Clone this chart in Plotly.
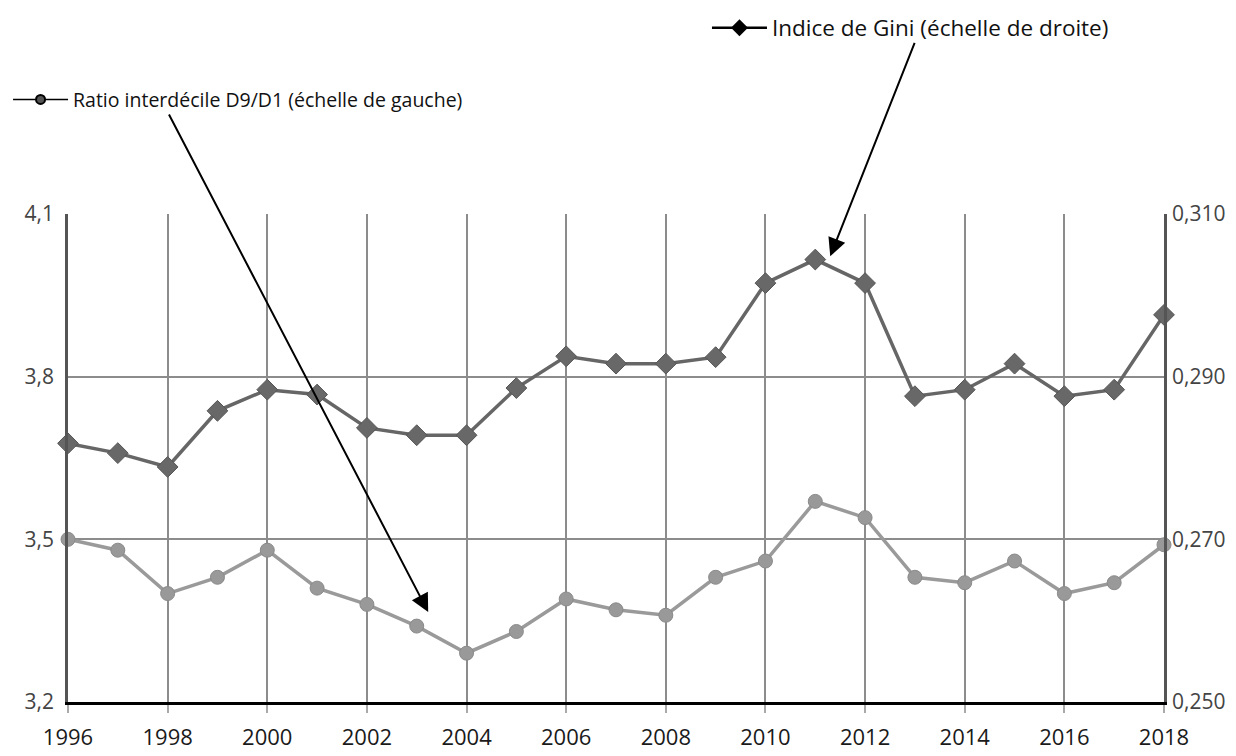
import plotly.graph_objects as go

years = list(range(1996, 2019))
gini = [0.2818, 0.2806, 0.2789, 0.2858, 0.2884, 0.2878, 0.2837, 0.2828, 0.2828,
        0.2886, 0.2925, 0.2916, 0.2916, 0.2924, 0.3015, 0.3044, 0.3015, 0.2876,
        0.2884, 0.2916, 0.2876, 0.2884, 0.2976]
ratio = [3.50, 3.48, 3.40, 3.43, 3.48, 3.41, 3.38, 3.34, 3.29, 3.33, 3.39, 3.37,
         3.36, 3.43, 3.46, 3.57, 3.54, 3.43, 3.42, 3.46, 3.40, 3.42, 3.49]

x_ticks = list(range(1996, 2019, 2))
x_labels = [str(v) for v in x_ticks]
left_ticks = [3.2, 3.5, 3.8, 4.1]
left_labels = ["3,2", "3,5", "3,8", "4,1"]
right_ticks = [0.250, 0.270, 0.290, 0.310]
right_labels = ["0,250", "0,270", "0,290", "0,310"]

gini_name = "Indice de Gini (échelle de droite)"
ratio_name = "Ratio interdécile D9/D1 (échelle de gauche)"

FONT = "Open Sans"
fig = go.Figure()

fig.add_trace(go.Scatter(
    x=years, y=ratio, mode="lines+markers", yaxis="y", showlegend=False,
    line=dict(color="#9a9a9a", width=3.5),
    marker=dict(symbol="circle", size=14, color="#999999", line=dict(color="#8a8a8a", width=1)),
    cliponaxis=False, hoverinfo="skip"))
fig.add_trace(go.Scatter(
    x=years, y=gini, mode="lines+markers", yaxis="y2", showlegend=False,
    line=dict(color="#666666", width=3.5),
    marker=dict(symbol="diamond", size=16, color="#686868", line=dict(color="#555555", width=1)),
    cliponaxis=False, hoverinfo="skip"))

# legend-only entries
fig.add_trace(go.Scatter(
    x=[None], y=[None], mode="lines+markers", name=gini_name, legend="legend",
    line=dict(color="black", width=2.5),
    marker=dict(symbol="diamond", size=13, color="black")))
fig.add_trace(go.Scatter(
    x=[None], y=[None], mode="lines+markers", name=ratio_name, legend="legend2",
    line=dict(color="black", width=1.5),
    marker=dict(symbol="circle", size=9, color="#555555", line=dict(color="black", width=2))))

# arrows
fig.add_annotation(x=2011.3, y=0.3048, xref="x", yref="y2", text="", showarrow=True,
                   ax=85, ay=-215, arrowhead=2, arrowsize=1.8, arrowwidth=2, arrowcolor="black")
fig.add_annotation(x=2003.23, y=3.366, xref="x", yref="y", text="", showarrow=True,
                   ax=-260, ay=-499, arrowhead=2, arrowsize=1.8, arrowwidth=2, arrowcolor="black")

fig.update_layout(
    width=1236, height=756,
    margin=dict(l=60, r=80, t=206, b=62, autoexpand=False),
    paper_bgcolor="white", plot_bgcolor="white",
    font=dict(family=FONT, color="#333333", size=22),
    hovermode=False,
    xaxis=dict(range=[1996, 2018], tickvals=x_ticks, ticktext=x_labels,
               showgrid=True, gridcolor="#8c8c8c", gridwidth=2,
               showline=True, linecolor="black", linewidth=2.5,
               ticks="outside", ticklen=8, tickcolor="#aaaaaa", tickwidth=1.5,
               ticklabelstandoff=6,
               tickfont=dict(size=22, color="#1a1a1a"), zeroline=False, automargin=False),
    yaxis=dict(range=[3.2, 4.1], tickvals=left_ticks, ticktext=left_labels,
               showgrid=True, gridcolor="#8c8c8c", gridwidth=2,
               showline=True, linecolor="#555555", linewidth=2.5,
               ticklabelstandoff=7,
               tickfont=dict(size=21, color="#444444"), zeroline=False, ticks="", automargin=False),
    yaxis2=dict(range=[0.25, 0.31], tickvals=right_ticks, ticktext=right_labels,
                overlaying="y", side="right", showgrid=False,
                showline=True, linecolor="#555555", linewidth=2.5,
                ticklabelstandoff=1,
                tickfont=dict(size=21, color="#444444"), zeroline=False, ticks="", automargin=False),
    legend=dict(x=0.583, y=1.381, xanchor="left", yanchor="middle",
                font=dict(family=FONT, size=22.5, color="#111111"),
                bgcolor="rgba(0,0,0,0)", itemwidth=55),
    legend2=dict(x=-0.0547, y=1.234, xanchor="left", yanchor="middle",
                 font=dict(family=FONT, size=19.5, color="#111111"),
                 bgcolor="rgba(0,0,0,0)", itemwidth=55),
)

fig.write_html("out.html")
